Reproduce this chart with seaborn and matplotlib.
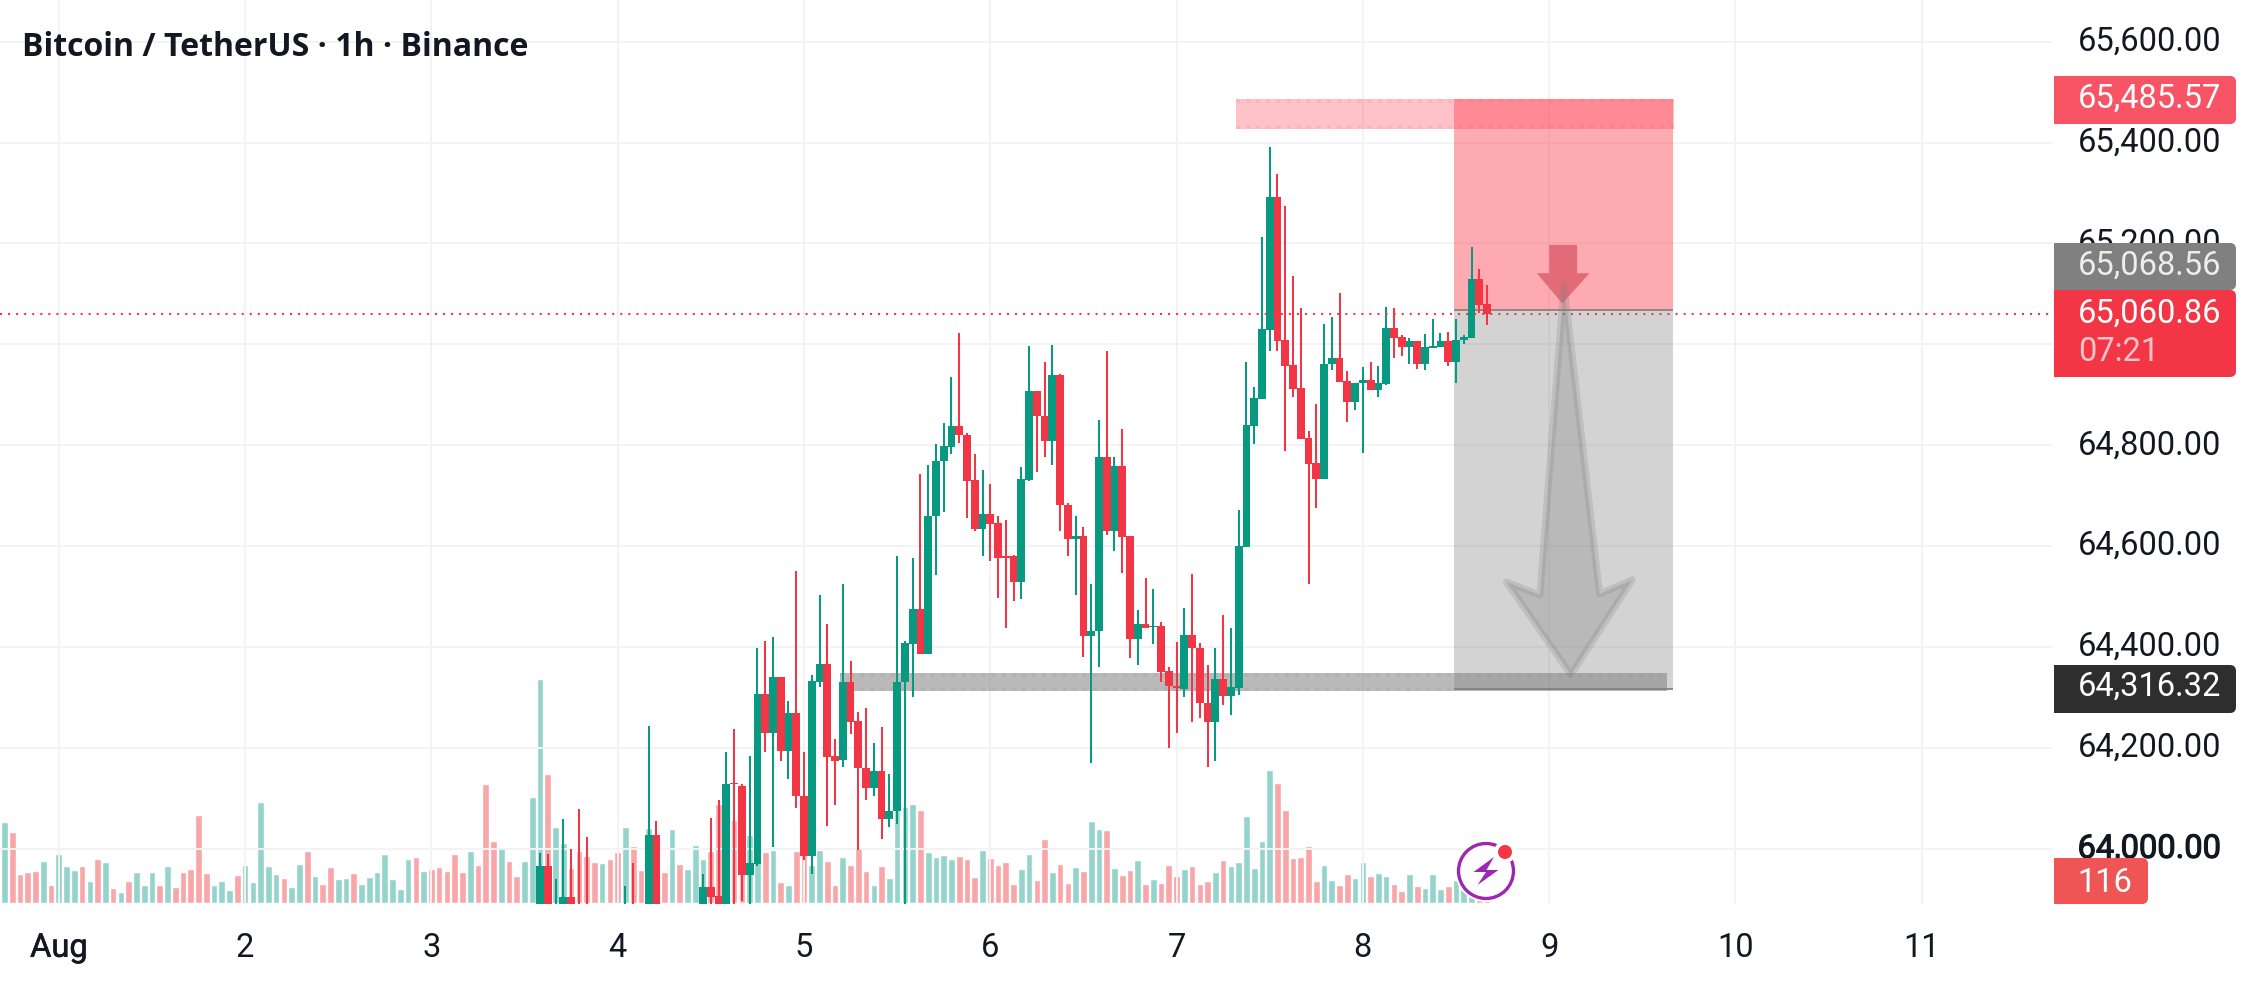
import matplotlib
matplotlib.use("Agg")
import matplotlib.pyplot as plt
import matplotlib.patches as mpatches
import matplotlib.patheffects as pe
from matplotlib.transforms import ScaledTranslation
import seaborn as sns

# hours counted from Aug 1 00:00, one bar per hour
vol_hour = list(range(-7, 185))
vol_value = [
    81, 71, 29, 31, 32, 42, 18,
    49, 37, 33, 37, 22, 44, 41, 15, 11, 22, 31, 18, 31, 18, 37, 16, 31, 34, 88, 30, 18, 22, 13, 28,
    38, 21, 101, 37, 29, 25, 16, 39, 52, 27, 19, 36, 24, 25, 30, 19, 26, 31, 49, 24, 14, 44, 46, 32,
    34, 36, 32, 49, 31, 52, 38, 119, 62, 56, 42, 27, 42, 106, 224, 129, 76, 60, 35, 52, 47, 41, 40, 44,
    51, 76, 57, 33, 75, 50, 31, 74, 39, 34, 58, 44, 52, 99, 70, 83, 40, 68, 50, 51, 53, 21, 18, 52,
    48, 38, 53, 42, 18, 46, 38, 55, 32, 18, 37, 25, 93, 96, 99, 93, 51, 46, 48, 44, 47, 44, 26, 53,
    45, 38, 41, 19, 34, 49, 23, 64, 31, 39, 20, 36, 32, 82, 74, 73, 35, 28, 33, 43, 19, 24, 20, 38,
    27, 34, 37, 19, 22, 31, 43, 37, 41, 87, 35, 62, 133, 120, 93, 45, 46, 57, 22, 38, 23, 18, 29, 25,
    41, 27, 30, 27, 19, 12, 29, 17, 15, 29, 14, 17, 23, 17, 10, 3, 3,
]
vol_side = list(
    "GRRRRGR"
    "GGGRGRGRGRGGGRGRRRRRGGGR"
    "GGGGGRGGRGRRGGRGGGGGGGRG"
    "RRRRRGRRRGRRGGGRGGRRRRGR"
    "RGRRGRRGRGGGRRGRRGGRGRGR"
    "RGGRRGRRRGRGGGGRGGGGRRRG"
    "RRRRGGRRGRRGRGGRGRRGRGRR"
    "RGRRRGRGGGGGGRRRRRRGGRRG"
    "GRGGRRGRGGGRGGGRR"
)

candle_hour = [62, 63, 64, 65, 66, 67, 68, 73, 74, 76, 77] + list(range(83, 185))
candle_open = [
    63860, 63966, 63855, 63870, 63904, 63880, 63870, 63860, 63875, 63865, 64027,
    63870, 63924, 63907, 63880, 64131, 64125, 63948, 63970, 64306, 64230, 64341, 64193, 64270,
    64104, 63986, 64331, 64367, 64183, 64176, 64331, 64254, 64161, 64120, 64154, 64060, 64075,
    64330, 64406, 64476, 64386, 64660, 64769, 64796, 64839, 64821, 64732, 64634,
    64664, 64645, 64580, 64580, 64529, 64732, 64907, 64858, 64808, 64940, 64682, 64614,
    64621, 64421, 64431, 64777, 64629, 64758, 64621, 64416, 64446, 64440, 64441, 64352,
    64323, 64316, 64423, 64399, 64290, 64252, 64336, 64303, 64318, 64598, 64838, 64892,
    65029, 65292, 65008, 64959, 64914, 64814, 64765, 64733, 64960, 64972, 64927, 64886,
    64923, 64929, 64910, 64921, 65032, 65014, 64994, 65006, 64960, 64993, 64994, 65006,
    64965, 65008, 65013, 65129, 65080,
]
candle_high = [
    63991, 63989, 63940, 64059, 64000, 64079, 64023, 63926, 63972, 64244, 64055,
    63950, 64061, 64097, 64192, 64238, 64129, 64184, 64398, 64412, 64419, 64341, 64293, 64550,
    64192, 64345, 64503, 64446, 64218, 64525, 64373, 64271, 64280, 64210, 64242, 64149, 64581,
    64411, 64577, 64743, 64760, 64803, 64845, 64936, 65023, 64825, 64783, 64750,
    64724, 64659, 64651, 64583, 64756, 64996, 64907, 64964, 64998, 64942, 64685, 64660,
    64637, 64524, 64849, 64986, 64777, 64833, 64621, 64474, 64536, 64514, 64450, 64360,
    64409, 64477, 64544, 64407, 64364, 64399, 64463, 64438, 64671, 64965, 64915, 65212,
    65391, 65338, 65274, 65136, 65072, 64828, 64881, 65040, 65054, 65102, 64947, 64923,
    64955, 64965, 64957, 65074, 65072, 65019, 65013, 65006, 65020, 65050, 65023, 65024,
    65050, 65019, 65193, 65149, 65118,
]
candle_low = [
    63850, 63850, 63845, 63860, 63860, 63850, 63850, 63850, 63850, 63855, 63855,
    63860, 63870, 63870, 63870, 63880, 63897, 63891, 63966, 64192, 64003, 64175, 64139, 64081,
    63978, 63951, 64321, 64045, 64087, 64162, 64228, 63997, 64097, 64104, 64020, 64044, 64049,
    63880, 64300, 64386, 64386, 64542, 64668, 64782, 64805, 64656, 64629, 64580,
    64571, 64498, 64438, 64492, 64496, 64730, 64746, 64776, 64760, 64629, 64581, 64503,
    64381, 64171, 64361, 64623, 64591, 64547, 64379, 64365, 64437, 64405, 64331, 64199,
    64229, 64301, 64251, 64259, 64163, 64175, 64285, 64265, 64305, 64598, 64802, 64892,
    64987, 64986, 64789, 64896, 64813, 64525, 64676, 64733, 64950, 64926, 64847, 64870,
    64785, 64910, 64896, 64920, 64972, 64977, 64960, 64952, 64950, 64993, 64994, 64957,
    64923, 65001, 65013, 65063, 65039,
]
candle_close = [
    63966, 63860, 63870, 63904, 63870, 63860, 63860, 63875, 63860, 64027, 63865,
    63924, 63905, 63880, 64129, 64128, 63948, 63972, 64306, 64230, 64341, 64193, 64270, 64104,
    63986, 64333, 64367, 64181, 64175, 64331, 64252, 64161, 64120, 64154, 64060, 64075, 64331,
    64407, 64476, 64386, 64660, 64769, 64798, 64839, 64820, 64730, 64634, 64664,
    64643, 64577, 64577, 64529, 64734, 64907, 64858, 64808, 64940, 64681, 64614, 64621,
    64421, 64432, 64777, 64629, 64758, 64619, 64416, 64446, 64437, 64442, 64350, 64323,
    64318, 64423, 64398, 64289, 64252, 64336, 64303, 64320, 64600, 64840, 64893, 65030,
    65292, 65007, 64958, 64912, 64813, 64762, 64733, 64961, 64972, 64926, 64886, 64923,
    64929, 64910, 64923, 65032, 65013, 64994, 65006, 64960, 64994, 64997, 65006, 64965,
    65008, 65014, 65129, 65078, 65061,
]

price_ticks = [64000, 64200, 64400, 64600, 64800, 65000, 65200, 65400, 65600]
price_labels = ["64,000.00", "64,200.00", "64,400.00", "64,600.00", "64,800.00",
                "65,000.00", "65,200.00", "65,400.00", "65,600.00"]
day_ticks = [0, 24, 48, 72, 96, 120, 144, 168, 192, 216, 240]
day_labels = ["Aug", "2", "3", "4", "5", "6", "7", "8", "9", "10", "11"]

GREEN = "#089981"
RED = "#F23645"
INK = "#131722"
LABEL_SIZE = 23.5

sns.set_theme(style="white")
plt.rcParams["font.family"] = ["Roboto", "DejaVu Sans"]

fig = plt.figure(figsize=(22.5, 9.82), dpi=100, facecolor="white")
pane = [0, 78 / 982, 2052 / 2250, 904 / 982]
xlim = (-7.575, 256.78)

# volume sits in its own axes, under the candles
ax_vol = fig.add_axes(pane, zorder=1)
sns.barplot(x=vol_hour, y=vol_value, hue=vol_side, palette={"G": "#94D4CC", "R": "#F9A6A9"},
            native_scale=True, dodge=False, width=0.86, saturation=1, errorbar=None,
            legend=False, ax=ax_vol)
ax_vol.set_xlim(xlim)
ax_vol.set_ylim(-1, 903)
ax_vol.axis("off")

ax = fig.add_axes(pane, zorder=2)
ax.patch.set_visible(False)
ax.set_xlim(xlim)
ax.set_ylim(63890.6, 65682.5)
for side in ax.spines.values():
    side.set_visible(False)

ax.set_axisbelow(True)
ax.grid(True, color="#F3F3F3", linewidth=1.4)
ax.set_xticks(day_ticks)
ax.set_xticklabels(day_labels, fontsize=LABEL_SIZE, color=INK)
ax.set_yticks(price_ticks)
ax.set_yticklabels(price_labels, fontsize=LABEL_SIZE, color=INK)
ax.tick_params(axis="y", length=0, left=False, labelleft=False, right=False, labelright=True, pad=121.7)
ax.tick_params(axis="x", length=0, pad=20)
lift = ScaledTranslation(0, 3.5 / 100, fig.dpi_scale_trans)
for lab in ax.yaxis.get_majorticklabels():
    lab.set_horizontalalignment("right")
    lab.set_transform(lab.get_transform() + lift)
# the 64,000.00 label is drawn twice in the original, so it looks heavier
ax.yaxis.get_majorticklabels()[0].set_path_effects([pe.withStroke(linewidth=0.8, foreground=INK)])
ax.xaxis.get_majorticklabels()[0].set_path_effects([pe.withStroke(linewidth=0.4, foreground=INK)])

# short position tool
ax.axhspan(65068.56, 65485.57, xmin=(179.7 - xlim[0]) / (xlim[1] - xlim[0]),
           xmax=(207.9 - xlim[0]) / (xlim[1] - xlim[0]), color="#FB2B3E", alpha=0.4, lw=0, zorder=1)
ax.axhspan(64316.32, 65068.56, xmin=(179.7 - xlim[0]) / (xlim[1] - xlim[0]),
           xmax=(207.9 - xlim[0]) / (xlim[1] - xlim[0]), color="#808080", alpha=0.34, lw=0, zorder=1)
ax.hlines([65068.56, 64316.32], 179.7, 207.9, color="#8A8A8A", lw=1.4, zorder=1.2)

# the two zone bands, with dotted borders
ax.fill_between([151.6, 208.1], 65426, 65486, color="#FF4D5E", alpha=0.34, lw=0, zorder=1.5)
ax.hlines([65482, 65430], 151.6, 208.1, color="#F23645", alpha=0.1, lw=2.6,
          linestyles=[(0, (1.1, 1.7))], zorder=1.6)
ax.fill_between([100.6, 207.2], 64312, 64348.5, color="#808080", alpha=0.54, lw=0, zorder=1.5)
ax.hlines([64344.5, 64316], 100.6, 207.2, color="#808080", alpha=0.15, lw=2.6,
          linestyles=[(0, (1.1, 1.7))], zorder=1.6)

# candles
colors = [GREEN if c >= o else RED for o, c in zip(candle_open, candle_close)]
bottoms = [min(o, c) for o, c in zip(candle_open, candle_close)]
heights = [max(abs(c - o), 2) for o, c in zip(candle_open, candle_close)]
ax.vlines(candle_hour, candle_low, candle_high, colors=colors, lw=1.45, zorder=3)
ax.bar(candle_hour, heights, bottom=bottoms, width=1.0, color=colors, lw=0, zorder=3.2)

ax.axhline(65060.86, color=RED, lw=1.45, linestyle=(0, (1, 3)), zorder=3.5)

# arrows drawn on the chart
small_arrow = [(192.0, 65197), (195.6, 65197), (195.6, 65141), (197.2, 65141), (193.7, 65081),
               (190.4, 65141), (192.0, 65141)]
ax.add_patch(mpatches.Polygon(small_arrow, closed=True, facecolor="#E36B78", edgecolor="none", zorder=4))
big_arrow = [(193.9, 65120), (198.5, 64505), (202.7, 64533), (194.8, 64345), (186.5, 64529), (190.8, 64503)]
ax.add_patch(mpatches.Polygon(big_arrow, closed=True, facecolor="#808080", edgecolor="none", alpha=0.3, zorder=4.2))
ax.add_patch(mpatches.Polygon(big_arrow, closed=True, fill=False, edgecolor="#808080", lw=5, alpha=0.24,
                              joinstyle="round", zorder=4.3))

# everything outside the plotted data goes on a pixel sized overlay
top = fig.add_axes([0, 0, 1, 1], zorder=5)
top.set_xlim(0, 2250)
top.set_ylim(982, 0)
top.axis("off")
top.patch.set_visible(False)


def badge(x0, y0, x1, y1, color):
    top.add_patch(mpatches.FancyBboxPatch((x0 + 8, y0), x1 - x0 - 8, y1 - y0,
                                          boxstyle="round,pad=0,rounding_size=6", fc=color, ec="none"))
    top.add_patch(mpatches.Rectangle((x0, y0), 14, y1 - y0, fc=color, ec="none"))


def price_tag(text, y, color="white"):
    top.text(2221, y, text, color=color, fontsize=LABEL_SIZE, ha="right", va="center")


badge(2054, 76, 2236, 124, "#F75566")
price_tag("65,485.57", 99)
badge(2054, 243, 2236, 290, "#808080")
price_tag("65,068.56", 266, "#EDEDED")
badge(2054, 290, 2236, 377, RED)
price_tag("65,060.86", 313.5)
top.text(2078, 352, "07:21", color="#FBC4C9", fontsize=LABEL_SIZE, ha="left", va="center")
badge(2054, 665, 2236, 713, "#2E2E2E")
price_tag("64,316.32", 687)
badge(2054, 858, 2148, 904, "#F05555")
top.text(2105, 883.5, "116", color="white", fontsize=LABEL_SIZE, ha="center", va="center")

top.text(22, 47.5, "Bitcoin / TetherUS · 1h · Binance", color=INK, fontsize=23,
         family=["Open Sans", "DejaVu Sans"], fontweight="bold", ha="left", va="center")

# lightning icon
top.add_patch(mpatches.Circle((1486, 871), 31, fc="white", ec="none"))
top.add_patch(mpatches.Circle((1486, 871), 27.5, fc="white", ec="#9C27B0", lw=2.4))
top.add_patch(mpatches.Circle((1505, 852), 11, fc="white", ec="none"))
top.add_patch(mpatches.Circle((1505, 852), 7, fc=RED, ec="none"))
bolt = [(1494, 857), (1473.5, 872), (1486, 872), (1477.5, 885), (1498.5, 870), (1486.5, 870)]
top.add_patch(mpatches.Polygon(bolt, closed=True, fc="#9C27B0", ec="none"))

fig.savefig("out.png", dpi=100, facecolor="white")
